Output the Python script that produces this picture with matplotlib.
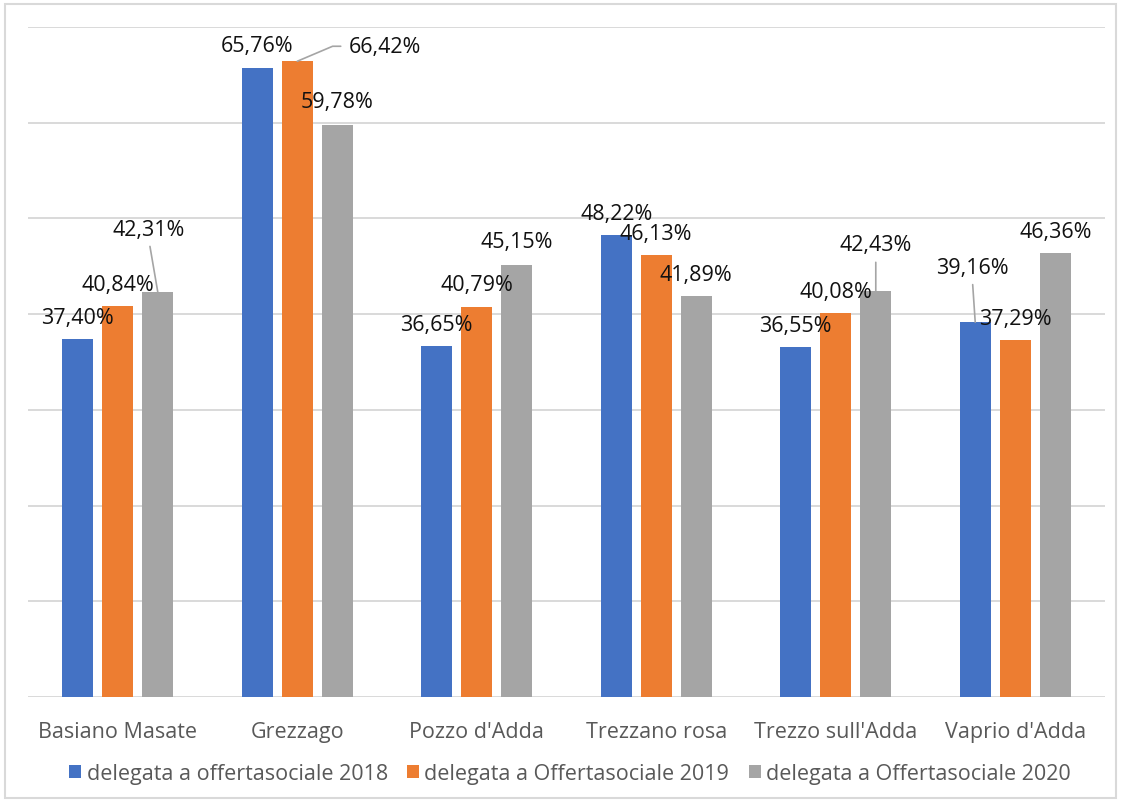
import matplotlib
matplotlib.use("Agg")
import matplotlib.pyplot as plt
from matplotlib.patches import Rectangle
import numpy as np

plt.rcParams['font.family'] = ['Open Sans', 'DejaVu Sans']

# Comuni e percentuali di delega
comuni = ['Basiano Masate', 'Grezzago', "Pozzo d'Adda",
          'Trezzano rosa', "Trezzo sull'Adda", "Vaprio d'Adda"]
serie = ['delegata a offertasociale 2018',
         'delegata a Offertasociale 2019',
         'delegata a Offertasociale 2020']
val_2018 = [37.40, 65.76, 36.65, 48.22, 36.55, 39.16]
val_2019 = [40.84, 66.42, 40.79, 46.13, 40.08, 37.29]
val_2020 = [42.31, 59.78, 45.15, 41.89, 42.43, 46.36]
valori = [val_2018, val_2019, val_2020]
colori = ['#4472C4', '#ED7D31', '#A5A5A5']

# spostamento etichette (pixel) rispetto alla cima della barra
off_2018 = [(0, 22), (0, 22), (0, 22), (0, 22), (0, 22), (-3, 55)]
off_2019 = [(0, 22), (88, 15), (0, 22), (0, 22), (0, 22), (0, 22)]
off_2020 = [(-9, 63), (0, 23), (0, 23), (0, 22), (0, 46), (0, 22)]
offsets = [off_2018, off_2019, off_2020]
# etichette con linea di richiamo
richiami = {(2, 0), (1, 1), (2, 4), (0, 5)}

W, H = 1121, 803
fig = plt.figure(figsize=(W / 100, H / 100), dpi=100)
ax = fig.add_axes([28 / W, (H - 698) / H, 1077 / W, 670 / H])

x = np.arange(len(comuni))
larg = 0.171
passo = 0.223
fs = 15.5

for s, (vals, col) in enumerate(zip(valori, colori)):
    pos = x + (s - 1) * passo
    ax.bar(pos, vals, width=larg, color=col, label=serie[s], zorder=3)
    for i, v in enumerate(vals):
        dx, dy = offsets[s][i]
        testo = f'{v:.2f}%'.replace('.', ',')
        if (s, i) in richiami:
            if s == 1:
                arrow = dict(arrowstyle='-', color='#A5A5A5', lw=1.2,
                             shrinkA=4, shrinkB=0, relpos=(0, 0.5),
                             connectionstyle='angle,angleA=0,angleB=23,rad=0')
            else:
                arrow = dict(arrowstyle='-', color='#A5A5A5', lw=1.2,
                             shrinkA=3, shrinkB=0, relpos=(0.5, 0))
        else:
            arrow = None
        ax.annotate(testo, xy=(pos[i], v), xytext=(dx, dy),
                    textcoords='offset pixels', ha='center', va='center',
                    fontsize=fs, color='#111111', arrowprops=arrow, zorder=4)

ax.set_xlim(-0.5, len(comuni) - 0.5)
ax.set_ylim(0, 70)
ax.set_yticks(np.arange(0, 71, 10))
ax.yaxis.grid(True, color='#D9D9D9', lw=1.4, zorder=0)
ax.tick_params(axis='y', left=False, labelleft=False)
ax.set_xticks(x)
ax.set_xticklabels(comuni, fontsize=fs, color='#595959')
ax.tick_params(axis='x', length=0, pad=17)
for sp in ['top', 'right', 'left', 'bottom']:
    ax.spines[sp].set_visible(False)

fig.legend(loc='center', bbox_to_anchor=(570 / W, 1 - 775 / H), ncol=3,
           frameon=False, fontsize=fs, labelcolor='#595959',
           handlelength=0.55, handleheight=0.55, handletextpad=0.25,
           columnspacing=0.9)

# cornice del grafico
fig.patches.append(Rectangle((5 / W, 4 / H), 1111 / W, 794 / H,
                             transform=fig.transFigure, fill=False,
                             edgecolor='#D9D9D9', lw=1.5))

fig.savefig('out.png', dpi=100)
